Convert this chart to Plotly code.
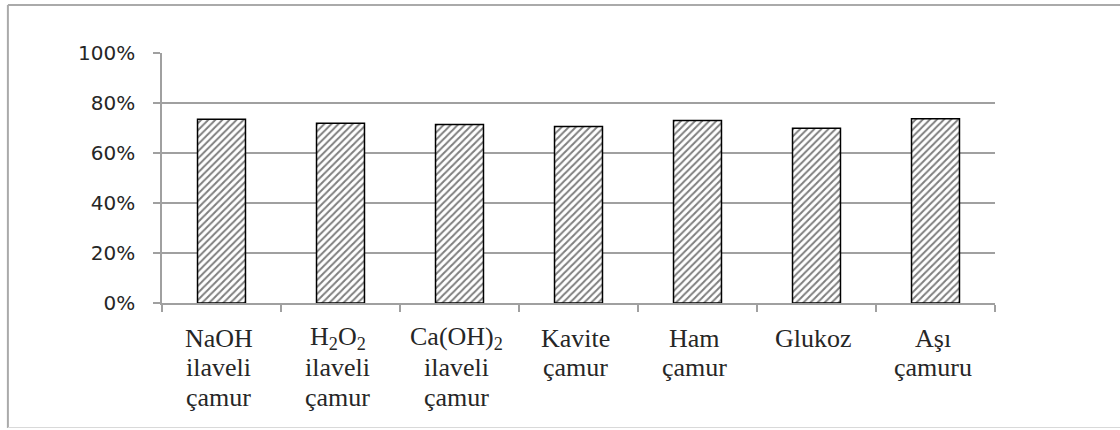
import plotly.graph_objects as go

# Category names and the stacked lines shown under each bar
categories = ["NaOH ilaveli çamur", "H2O2 ilaveli çamur", "Ca(OH)2 ilaveli çamur",
              "Kavite çamur", "Ham çamur", "Glukoz", "Aşı çamuru"]
label_lines = [
    ["NaOH", "ilaveli", "çamur"],
    ["H<sub>2</sub>O<sub>2</sub>", "ilaveli", "çamur"],
    ["Ca(OH)<sub>2</sub>", "ilaveli", "çamur"],
    ["Kavite", "çamur"],
    ["Ham", "çamur"],
    ["Glukoz"],
    ["Aşı", "çamuru"],
]
values = [0.735, 0.719, 0.714, 0.706, 0.730, 0.699, 0.737]
y_ticks = [0, 0.2, 0.4, 0.6, 0.8, 1.0]

GRID = "#a0a0a0"
TEXT = "#262626"

fig = go.Figure(go.Bar(
    x=categories,
    y=values,
    marker=dict(
        color="white",
        line=dict(color="black", width=1.5),
        pattern=dict(shape="/", fgcolor="black", bgcolor="white",
                     size=5, solidity=0.4),
    ),
    hoverinfo="skip",
))

# Multi-line category labels, one annotation per line for tight spacing
line_step = 29.5
annotations = []
for cat, lines in zip(categories, label_lines):
    for i, txt in enumerate(lines):
        annotations.append(dict(
            x=cat, y=0, xref="x", yref="y",
            text=txt, showarrow=False,
            xanchor="center", yanchor="middle",
            xshift=-3, yshift=-35 - i * line_step,
            font=dict(family="Liberation Serif", size=26, color=TEXT),
        ))

# Chart-area frame
frame = dict(type="line", xref="paper", yref="paper")
shapes = [
    dict(frame, x0=-0.185, x1=-0.185, y0=-0.5, y1=1.192,
         line=dict(color="#aaaaaa", width=2)),
    dict(frame, x0=-0.185, x1=1.2, y0=1.192, y1=1.192,
         line=dict(color="#aaaaaa", width=2)),
    dict(frame, x0=-0.185, x1=1.2, y0=-0.498, y1=-0.498,
         line=dict(color="#d9d9d9", width=1)),
]

fig.update_layout(
    width=1120, height=430,
    margin=dict(l=162, r=125, t=53, b=127),
    paper_bgcolor="white", plot_bgcolor="white",
    showlegend=False,
    bargap=0.597,
    annotations=annotations,
    shapes=shapes,
    xaxis=dict(
        type="category",
        showticklabels=False,
        ticks="outside", tickson="boundaries", ticklen=7,
        tickcolor=GRID, tickwidth=1.5,
        showline=True, linecolor=GRID, linewidth=1.5,
        showgrid=False, zeroline=False,
    ),
    yaxis=dict(
        range=[0, 1],
        tickvals=y_ticks, tickformat=".0%",
        ticks="outside", ticklen=7, tickcolor=GRID, tickwidth=1.5,
        ticklabelstandoff=14,
        tickfont=dict(family="DejaVu Sans", size=20, color=TEXT),
        showline=True, linecolor=GRID, linewidth=1.5,
        showgrid=True, gridcolor=GRID, gridwidth=1.5,
        zeroline=False,
    ),
)

fig.write_html("out.html")
